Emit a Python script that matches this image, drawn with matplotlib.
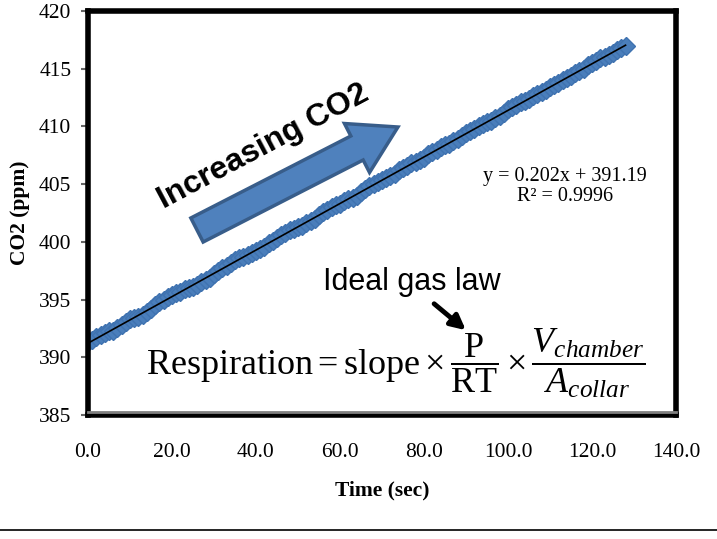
import numpy as np
import matplotlib
matplotlib.use("Agg")
import matplotlib.pyplot as plt
import matplotlib.patches as mpatches
import matplotlib.transforms as mtransforms
from matplotlib.lines import Line2D

# CO2 readings, one per second
time_sec = list(range(0, 129))
co2_ppm = [
    391.3, 391.5, 391.8, 391.9, 392.1, 392.3, 392.3, 392.5, 392.8, 393.1,
    393.3, 393.4, 393.5, 393.7, 393.9, 394.2, 394.5, 394.8, 395.0, 395.2,
    395.4, 395.6, 395.7, 395.9, 396.0, 396.1, 396.3, 396.5, 396.7, 396.9,
    397.2, 397.5, 397.7, 397.9, 398.2, 398.4, 398.6, 398.7, 398.9, 399.0,
    399.2, 399.4, 399.6, 399.9, 400.1, 400.3, 400.6, 400.8, 401.0, 401.1,
    401.3, 401.4, 401.6, 401.8, 402.0, 402.3, 402.6, 402.8, 403.0, 403.2,
    403.3, 403.5, 403.7, 403.8, 404.0, 404.3, 404.6, 404.8, 405.0, 405.2,
    405.4, 405.5, 405.7, 405.9, 406.2, 406.4, 406.6, 406.8, 406.9, 407.1,
    407.3, 407.6, 407.8, 408.0, 408.2, 408.4, 408.5, 408.7, 408.9, 409.2,
    409.4, 409.6, 409.8, 410.0, 410.2, 410.4, 410.5, 410.7, 410.9, 411.2,
    411.5, 411.7, 411.9, 412.1, 412.2, 412.4, 412.6, 412.8, 413.0, 413.2,
    413.4, 413.6, 413.8, 414.0, 414.2, 414.4, 414.6, 414.8, 415.0, 415.3,
    415.5, 415.7, 415.9, 416.0, 416.2, 416.4, 416.6, 416.8, 417.0,
]
x_ticks = [0, 20, 40, 60, 80, 100, 120, 140]
y_ticks = [385, 390, 395, 400, 405, 410, 415, 420]
fit_text = "y = 0.202x + 391.19\nR² = 0.9996"

plt.rcParams['mathtext.fontset'] = 'custom'
plt.rcParams['mathtext.rm'] = 'Liberation Serif'
plt.rcParams['mathtext.it'] = 'Liberation Serif:italic'

fig = plt.figure(figsize=(7.17, 5.39), dpi=100)
ax = fig.add_axes([0.1227, 0.230, 0.820, 0.7495])

# data band + linear trendline
ax.plot(time_sec, co2_ppm, 'D', ms=9, color='#4a7ebb', mec='#3f72b0', mew=1, zorder=2)
slope, intercept = np.polyfit(time_sec, co2_ppm, 1)
t = np.array([time_sec[0], time_sec[-1]])
ax.plot(t, slope * t + intercept, color='black', lw=1.2, zorder=3)

ax.set_xlim(0, 140)
ax.set_ylim(385, 420)
ax.set_xticks(x_ticks)
ax.set_xticklabels([f"{v:.1f}" for v in x_ticks])
ax.set_yticks(y_ticks)
ax.set_yticklabels([str(v) for v in y_ticks])
ax.tick_params(axis='x', length=0, pad=20, labelsize=15.5)
ax.tick_params(axis='y', length=5, width=1.5, color='#666666', pad=7, labelsize=15.5)
for lab in ax.get_xticklabels() + ax.get_yticklabels():
    lab.set_family('Liberation Serif')
for s in ax.spines.values():
    s.set_linewidth(4)
    s.set_color('black')

# grey shading line just inside the bottom border
shift = mtransforms.ScaledTranslation(0, 3.5 / 100, fig.dpi_scale_trans)
ax.add_line(Line2D([0, 1], [0, 0], transform=ax.transAxes + shift, color='#808080',
                   lw=2, clip_on=False, zorder=4))

ax.set_xlabel('Time (sec)', family='Liberation Serif', weight='bold', fontsize=15.5)
ax.set_ylabel('CO2 (ppm)', family='Liberation Serif', weight='bold', fontsize=15.5)
ax.xaxis.set_label_coords(0.5, -0.163)
ax.yaxis.set_label_coords(-0.098, 0.5)

fig.text(5.65, 3.525, fit_text, transform=fig.dpi_scale_trans, ha='center', va='center',
         family='Liberation Serif', fontsize=14.5, linespacing=1.05)

# big blue arrow and label (figure inches)
arrow = mpatches.FancyArrow(1.97, 3.09, 1.60, 0.82, width=0.27, head_width=0.55,
                            head_length=0.46, length_includes_head=False,
                            transform=fig.dpi_scale_trans, fc='#4f81bd', ec='#385d8a', lw=2.5)
fig.patches.append(arrow)
fig.text(2.63, 3.92, 'Increasing CO2', transform=fig.dpi_scale_trans, rotation=28,
         ha='center', va='center', family='Liberation Sans', weight='bold', fontsize=23)

# ideal gas law note and equation
fig.text(4.12, 2.57, 'Ideal gas law', transform=fig.dpi_scale_trans, ha='center', va='center',
         family='Liberation Sans', fontsize=22)
fig.patches.append(mpatches.FancyArrowPatch((4.32, 2.37), (4.68, 2.07), transform=fig.dpi_scale_trans,
                                            arrowstyle='-|>', mutation_scale=22, lw=3.5, color='black'))
eq = r'$\mathrm{Respiration} = \mathrm{slope} \times \dfrac{\mathrm{P}}{\mathrm{RT}} \times \dfrac{V_{chamber}}{A_{collar}}$'
fig.text(3.96, 1.76, eq, transform=fig.dpi_scale_trans, ha='center', va='center', fontsize=26)

fig.add_artist(Line2D([0, 1], [0.017, 0.017], transform=fig.transFigure, color='black', lw=1.2))

fig.savefig('out.png', dpi=100)
